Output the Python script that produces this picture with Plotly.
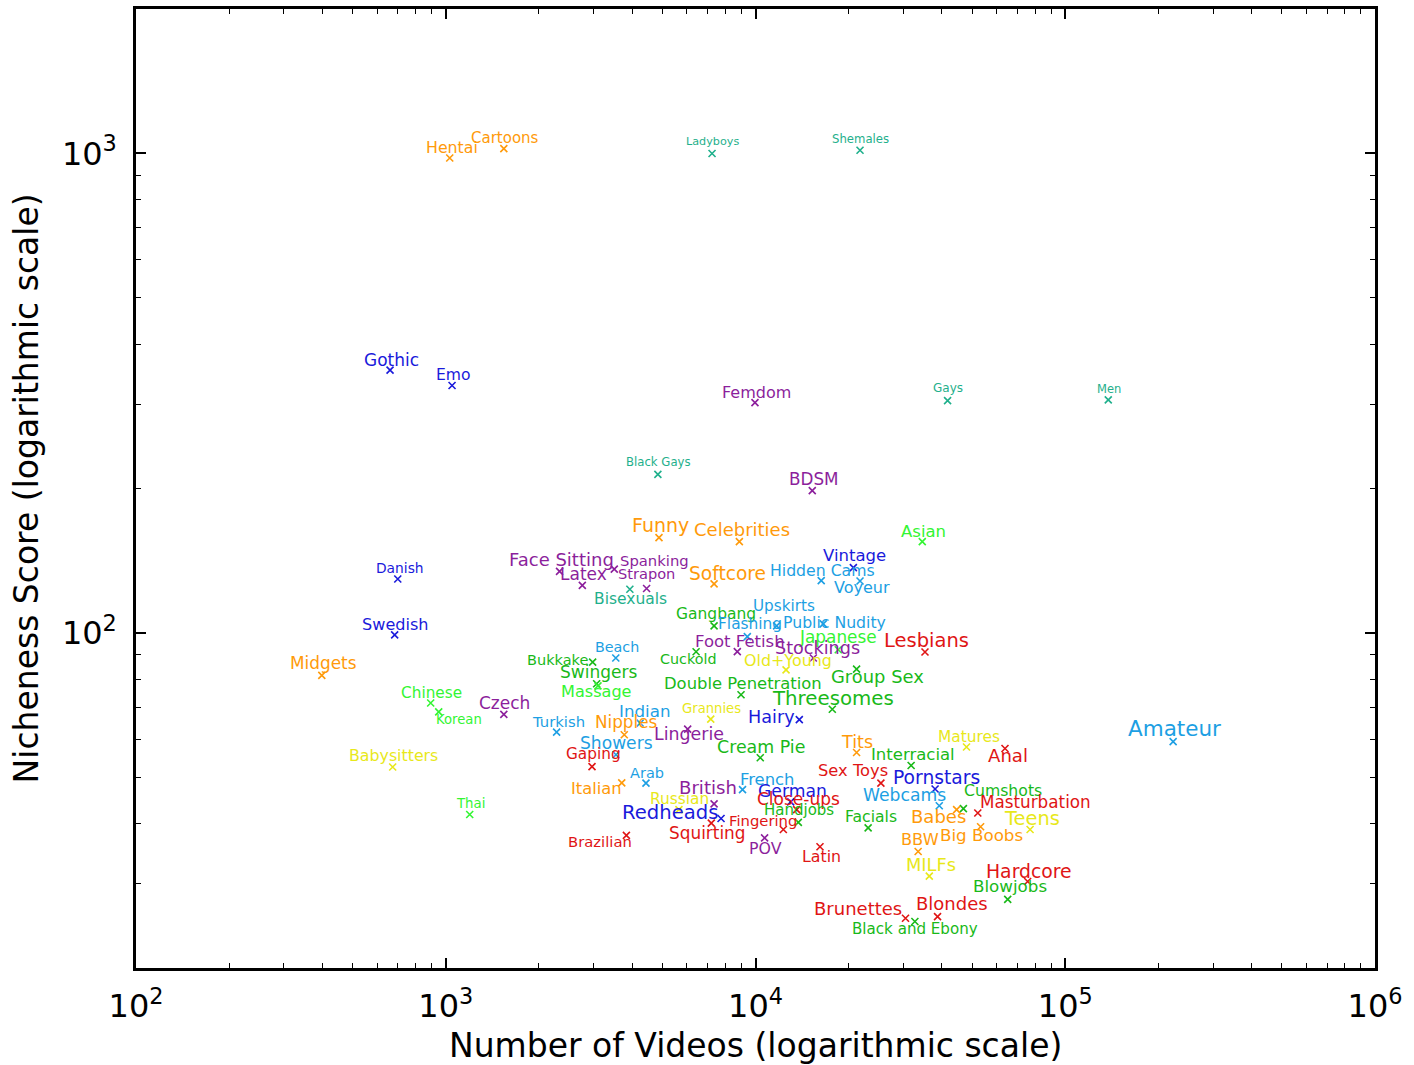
import numpy as np
import plotly.graph_objects as go

# ---------------- data ----------------
names = [
    "Hentai", "Cartoons", "Ladyboys", "Shemales", "Gothic", "Emo", "Black Gays", "Femdom",
    "Gays", "Men", "BDSM", "Funny", "Celebrities", "Asian", "Face Sitting", "Spanking",
    "Latex", "Strapon", "Softcore", "Danish", "Vintage", "Hidden Cams", "Voyeur", "Bisexuals",
    "Gangbang", "Upskirts", "Flashing", "Public Nudity", "Swedish", "Foot Fetish", "Japanese",
    "Lesbians", "Beach", "Bukkake", "Cuckold", "Stockings", "Old+Young", "Midgets", "Swingers",
    "Group Sex", "Massage", "Double Penetration", "Chinese", "Threesomes", "Czech", "Korean",
    "Turkish", "Indian", "Grannies", "Nipples", "Hairy", "Lingerie", "Amateur", "Matures",
    "Showers", "Tits", "Anal", "Cream Pie", "Interracial", "Babysitters", "Gaping", "Sex Toys",
    "Arab", "Pornstars", "French", "Italian", "German", "Cumshots", "Webcams", "Close-ups",
    "Russian", "British", "Masturbation", "Thai", "Handjobs", "Redheads", "Facials", "Babes",
    "Teens", "Fingering", "Squirting", "Brazilian", "BBW", "Big Boobs", "POV", "Latin",
    "MILFs", "Hardcore", "Blowjobs", "Blondes", "Brunettes", "Black and Ebony",
]

n_videos = [
    1030, 1540, 7240, 21750, 661, 1048, 4840, 9960,
    41700, 137700, 15250, 4880, 8870, 34550, 2330, 3500,
    2760, 4450, 7350, 700, 20700, 16300, 21750, 3930,
    7350, 11700, 9410, 16550, 684, 8735, 18500,
    35250, 3540, 2980, 6430, 15370, 12550, 398, 3070,
    21200, 3100, 8980, 894, 17700, 1540, 949,
    2280, 4240, 7170, 3770, 13850, 6040, 223000, 48000,
    3545, 21200, 63900, 10360, 31800, 674, 2966, 25400,
    4430, 38000, 9080, 3700, 12990, 46900, 39200, 13580,
    5660, 7350, 52200, 1195, 13750, 7740, 23100, 44600,
    77000, 12300, 7200, 3830, 33500, 53300, 10700, 16150,
    36400, 75600, 65200, 38700, 30500, 32700,
]

nicheness = [
    978, 1023, 999, 1015, 353, 328, 214, 302,
    305, 306, 198, 158, 155, 155, 134.3, 135.8,
    125.6, 123.7, 126.5, 129.5, 136.8, 128.5, 128.3, 123.3,
    103.4, 103.4, 98.2, 104.4, 99.0, 91.4, 92.2,
    91.2, 88.6, 86.9, 91.3, 88.6, 83.7, 81.5, 78.3,
    84.0, 77.5, 74.3, 71.4, 69.3, 67.6, 68.4,
    62.1, 64.8, 66.1, 61.3, 65.9, 63.0, 59.3, 57.8,
    55.7, 56.3, 57.4, 54.9, 52.9, 52.5, 52.6, 48.6,
    48.6, 47.25, 47.1, 48.65, 44.4, 43.0, 43.6, 42.8,
    42.8, 44.0, 42.1, 41.8, 40.25, 41.0, 39.2, 42.8,
    38.9, 38.9, 40.1, 37.8, 35.0, 39.4, 37.35, 35.8,
    31.1, 30.3, 27.8, 25.6, 25.4, 25.0,
]

groups = [
    "orange", "orange", "teal", "teal", "blue", "blue", "teal", "purple",
    "teal", "teal", "purple", "orange", "orange", "lime", "purple", "purple",
    "purple", "purple", "orange", "blue", "blue", "sky", "sky", "teal",
    "green", "sky", "sky", "sky", "blue", "purple", "lime",
    "red", "sky", "green", "green", "purple", "yellow", "orange", "green",
    "green", "lime", "green", "lime", "green", "purple", "lime",
    "sky", "sky", "yellow", "orange", "blue", "purple", "sky", "yellow",
    "sky", "orange", "red", "green", "green", "yellow", "red", "red",
    "sky", "blue", "sky", "orange", "blue", "green", "sky", "red",
    "yellow", "purple", "red", "lime", "green", "blue", "green", "orange",
    "yellow", "red", "red", "red", "orange", "orange", "purple", "red",
    "yellow", "red", "green", "red", "red", "green",
]

x_tickvals = [1e2, 1e3, 1e4, 1e5, 1e6]
x_ticktext = ["10<sup>2</sup>", "10<sup>3</sup>", "10<sup>4</sup>", "10<sup>5</sup>", "10<sup>6</sup>"]
y_tickvals = [1e2, 1e3]
y_ticktext = ["10<sup>2</sup>", "10<sup>3</sup>"]

x_title = "Number of Videos (logarithmic scale)"
y_title = "Nicheness Score (logarithmic scale)"

# ---------------- styles ----------------
palette = {
    "orange": "#ff9a0a",
    "blue": "#1a1adb",
    "purple": "#8c1f9c",
    "teal": "#1fb08c",
    "green": "#19b919",
    "lime": "#33f533",
    "yellow": "#e8e81a",
    "red": "#e01515",
    "sky": "#1d9fe3",
}

# label placement: (x offset px, y offset px (down positive), font size px)
label_style = {
    "Hentai": (2, -9.7, 15.8), "Cartoons": (1.3, -9.5, 15), "Ladyboys": (0.7, -10.8, 11.2),
    "Shemales": (0.8, -10.5, 11.7), "Gothic": (1, -9.5, 17), "Emo": (1.3, -9.5, 15.6),
    "Black Gays": (0.3, -11.3, 11.7), "Femdom": (1.7, -9.6, 16), "Gays": (0.6, -11.5, 12),
    "Men": (1.2, -10.2, 11.5), "BDSM": (1.9, -10.7, 16.8), "Funny": (1.8, -11.4, 19),
    "Celebrities": (2.7, -10.8, 18), "Asian": (0.9, -9.5, 16.5), "Face Sitting": (2, -10.7, 18),
    "Spanking": (40.7, -8, 14.8), "Latex": (1.4, -10, 17), "Strapon": (0.3, -14.4, 14.6),
    "Softcore": (13.8, -9, 18.6), "Danish": (1.8, -10.3, 13.8), "Vintage": (0.9, -11, 16.5),
    "Hidden Cams": (0.8, -9.5, 15.7), "Voyeur": (2.3, 7.8, 16), "Bisexuals": (0.3, 10.4, 15.5),
    "Gangbang": (1.8, -10.5, 15.5), "Upskirts": (7.5, -18.8, 15.2), "Flashing": (2.2, -11.5, 15.4),
    "Public Nudity": (11.7, -0.7, 15.7), "Swedish": (1.3, -9.5, 16.1), "Foot Fetish": (2.2, -9.5, 16.5),
    "Japanese": (-0.6, -11.7, 16.9), "Lesbians": (1.7, -10.3, 19.5), "Beach": (1.5, -9.6, 14.3),
    "Bukkake": (-35.5, -1.5, 14.5), "Cuckold": (-8.5, 8.5, 14.3), "Stockings": (4.2, -8.6, 17.6),
    "Old+Young": (2.3, -8.3, 15.9), "Midgets": (1.6, -11.2, 16.9), "Swingers": (2, -10.7, 17),
    "Group Sex": (21, 8.2, 17.9), "Massage": (-1, 6.5, 16.1), "Double Penetration": (2.2, -10.5, 16.4),
    "Chinese": (0.5, -9.1, 15.3), "Threesomes": (1, -9.6, 19.8), "Czech": (1, -10.2, 17),
    "Korean": (20.6, 8.3, 13.2), "Turkish": (2.1, -9.5, 14.8), "Indian": (4.8, -11.1, 16.7),
    "Grannies": (0.6, -9.6, 13.2), "Nipples": (1.9, -11.3, 16.8), "Hairy": (-27.6, -1.7, 17.6),
    "Lingerie": (1.6, 6.2, 17.4), "Amateur": (1.2, -12, 21.5), "Matures": (2.1, -9.5, 15.4),
    "Showers": (0.3, -10.5, 17.1), "Tits": (0.8, -9, 17.6), "Anal": (3.3, 8.3, 18.1),
    "Cream Pie": (0.9, -10, 17.4), "Interracial": (2, -10.2, 16.5), "Babysitters": (1, -10.8, 15.8),
    "Gaping": (1.3, -11.2, 15.3), "Sex Toys": (-28, -11.3, 16.3), "Arab": (1, -9.3, 14.5),
    "Pornstars": (1.8, -10.5, 18.7), "French": (24.5, -9.2, 16.4), "Italian": (-25.4, 6.3, 16.3),
    "German": (2.1, -9.6, 17.2), "Cumshots": (39.2, -17.2, 15.7), "Webcams": (-34.8, -10, 17.2),
    "Close-ups": (2, -9.5, 17), "Russian": (0.3, -10, 15.4), "British": (-5.7, -15.7, 18.1),
    "Masturbation": (57.8, -9.6, 16.8), "Thai": (0.5, -10, 13.3), "Handjobs": (0.7, -11, 15),
    "Redheads": (-51.3, -5.2, 19.6), "Facials": (2.4, -9.8, 15.6), "Babes": (-18.4, 7.7, 18),
    "Teens": (1.7, -10.3, 19.4), "Fingering": (-20.8, -7.5, 14.8), "Squirting": (-3.6, 10.4, 16.9),
    "Brazilian": (-26.6, 7.1, 14.8), "BBW": (1.5, -10.5, 16.2), "Big Boobs": (1, 9.4, 16.7),
    "POV": (0.8, 11.2, 15.8), "Latin": (1.2, 10.5, 15.8), "MILFs": (1.7, -10.9, 17.8),
    "Hardcore": (1.5, -8.7, 18.8), "Blowjobs": (1.8, -12, 16.7), "Blondes": (14.8, -12, 18),
    "Brunettes": (-47.5, -9, 18), "Black and Ebony": (0.5, 8.8, 15.1),
}

FONT = "DejaVu Sans"
colors = [palette[g] for g in groups]

W, H = 1414, 1065
ML, MT, MR, MB = 136, 9, 39, 97

fig = go.Figure()
fig.add_trace(go.Scatter(
    x=n_videos, y=nicheness, mode="markers",
    marker=dict(symbol="x-thin", size=7, color=colors, line=dict(width=1.6, color=colors)),
    showlegend=False, hoverinfo="text", text=names,
))
# invisible trace for mirrored (top/right) tick axes
fig.add_trace(go.Scatter(x=[1e3], y=[100], xaxis="x2", yaxis="y2", mode="markers",
                         marker=dict(opacity=0), showlegend=False, hoverinfo="skip"))

annotations = []
for nm, xv, yv, g in zip(names, n_videos, nicheness, groups):
    dx, dy, fs = label_style[nm]
    annotations.append(dict(
        x=np.log10(xv), y=np.log10(yv), xref="x", yref="y", text=nm, showarrow=False,
        xanchor="center", yanchor="middle", xshift=dx, yshift=-dy + 1,
        font=dict(family=FONT, size=fs, color=palette[g]),
    ))

annotations.append(dict(x=0.5, y=-0.0813, xref="paper", yref="paper", text=x_title,
                        showarrow=False, xanchor="center", yanchor="middle",
                        font=dict(family=FONT, size=33, color="black")))
annotations.append(dict(x=-0.088, y=0.5, xref="paper", yref="paper", text=y_title,
                        showarrow=False, xanchor="center", yanchor="middle", textangle=-90,
                        font=dict(family=FONT, size=33, color="black")))

minor_x = [m * 10 ** e for e in range(2, 6) for m in range(2, 10)]
minor_y = [m * 10 ** e for e in range(1, 4) for m in range(2, 10) if 20 <= m * 10 ** e <= 2000]

yr = [np.log10(20), np.log10(2000)]
common_tick = dict(ticks="inside", ticklen=10, tickwidth=1.5, tickcolor="black", showgrid=False,
                   zeroline=False)
minor_cfg = dict(ticks="inside", ticklen=5, tickwidth=1.2, tickcolor="black", showgrid=False)

fig.update_layout(
    width=W, height=H,
    margin=dict(l=ML, r=MR, t=MT, b=MB, autoexpand=False),
    paper_bgcolor="white", plot_bgcolor="white",
    font=dict(family=FONT, color="black"),
    xaxis=dict(type="log", range=[2, 6], tickmode="array", tickvals=x_tickvals, ticktext=x_ticktext,
               tickfont=dict(size=32, family=FONT), showline=True, linecolor="black", linewidth=2.5,
               mirror=True, minor=dict(tickmode="array", tickvals=minor_x, **minor_cfg),
               ticklabelstandoff=8, **common_tick),
    yaxis=dict(type="log", range=yr, tickmode="array", tickvals=y_tickvals, ticktext=y_ticktext,
               tickfont=dict(size=32, family=FONT), showline=True, linecolor="black", linewidth=2.5,
               mirror=True, minor=dict(tickmode="array", tickvals=minor_y, **minor_cfg),
               ticklabelstandoff=10, **common_tick),
    xaxis2=dict(type="log", range=[2, 6], overlaying="x", side="top", anchor="y", tickmode="array",
                tickvals=x_tickvals, showticklabels=False, showline=False,
                minor=dict(tickmode="array", tickvals=minor_x, **minor_cfg), **common_tick),
    yaxis2=dict(type="log", range=yr, overlaying="y", side="right", anchor="x", tickmode="array",
                tickvals=y_tickvals, showticklabels=False, showline=False,
                minor=dict(tickmode="array", tickvals=minor_y, **minor_cfg), **common_tick),
    annotations=annotations,
)

fig.write_html("out.html", config={"displayModeBar": False},
               post_script="document.body.style.margin='0';document.body.style.overflow='hidden';")
